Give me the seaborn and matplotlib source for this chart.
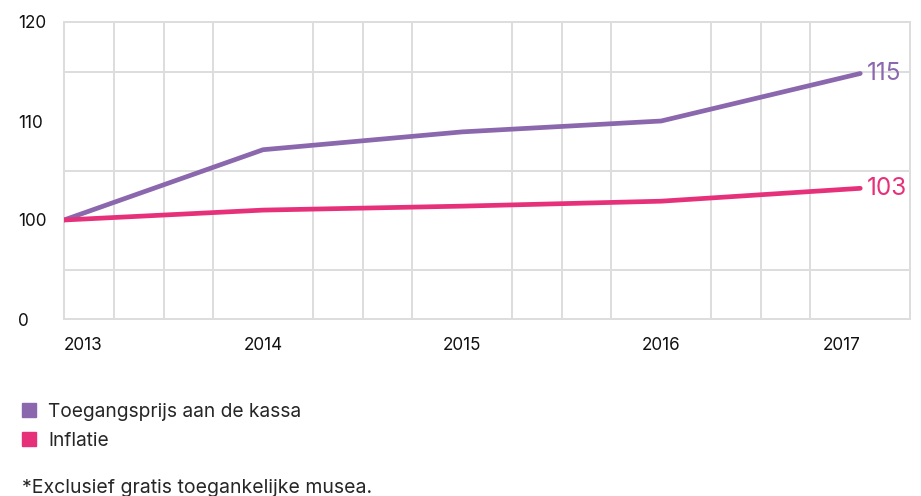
import pandas as pd
import seaborn as sns
import matplotlib.pyplot as plt
from matplotlib.lines import Line2D

years = [2013, 2014, 2015, 2016, 2017]
toegangsprijs = [100, 107.1, 108.9, 110.0, 114.8]
inflatie = [100, 101.0, 101.4, 101.9, 103.2]
series_names = ["Toegangsprijs aan de kassa", "Inflatie"]
end_labels = ["115", "103"]
y_ticks = [90, 100, 110, 120]
y_tick_labels = ["0", "100", "110", "120"]
footnote = "*Exclusief gratis toegankelijke musea."

colors = ["#8B67AE", "#E6317A"]

df = pd.concat([
    pd.DataFrame({"jaar": years, "index": toegangsprijs, "reeks": series_names[0]}),
    pd.DataFrame({"jaar": years, "index": inflatie, "reeks": series_names[1]}),
])

sns.set_style("white")
plt.rcParams['font.family'] = ['Inter', 'DejaVu Sans']

fig = plt.figure(figsize=(9.21, 4.96), dpi=100)
ax = fig.add_axes([64 / 921, 1 - 319 / 496, (910 - 64) / 921, (319 - 22) / 496])

sns.lineplot(data=df, x="jaar", y="index", hue="reeks", palette=colors,
             linewidth=3.4, legend=False, ax=ax, zorder=3)

# quarterly vertical grid, 5-point horizontal grid
ax.set_xlim(2013, 2017.25)
ax.set_ylim(90, 120)
ax.set_xticks([2013 + i * 0.25 for i in range(18)], minor=True)
ax.set_yticks(range(90, 121, 5), minor=True)
ax.grid(which="minor", color="#dddddd", linewidth=1.4)
ax.set_axisbelow(True)
for s in ax.spines.values():
    s.set_color("#dddddd")
    s.set_linewidth(1.4)

ax.set_xticks(years)
ax.set_xticklabels([str(y) for y in years])
ax.set_yticks(y_ticks)
ax.set_yticklabels(y_tick_labels)
ax.tick_params(axis="both", which="both", length=0, labelsize=12.3, colors="#111111")
ax.tick_params(axis="x", pad=13)
ax.tick_params(axis="y", pad=33)
for lbl in ax.get_yticklabels():
    lbl.set_horizontalalignment("left")
    lbl.set_verticalalignment("center_baseline")
xl = ax.get_xticklabels()
xl[0].set_horizontalalignment("left")
xl[-1].set_horizontalalignment("right")
ax.set_xlabel("")
ax.set_ylabel("")

for vals, lab, c in zip([toegangsprijs, inflatie], end_labels, colors):
    ax.annotate(lab, (years[-1], vals[-1]), xytext=(5, 0), textcoords="offset points",
                ha="left", va="center", color=c, fontsize=17.5)

handles = [Line2D([], [], marker="s", linestyle="", markersize=10, color=c) for c in colors]
fig.legend(handles, series_names, loc="upper left", bbox_to_anchor=(12 / 921, 1 - 395 / 496),
           frameon=False, fontsize=13.8, handletextpad=0.5, labelspacing=0.6,
           handlelength=1.0, borderaxespad=0)

fig.text(22 / 921, 1 - 486 / 496, footnote, fontsize=14, ha="left", va="center_baseline")

fig.savefig("out.png", dpi=100)
